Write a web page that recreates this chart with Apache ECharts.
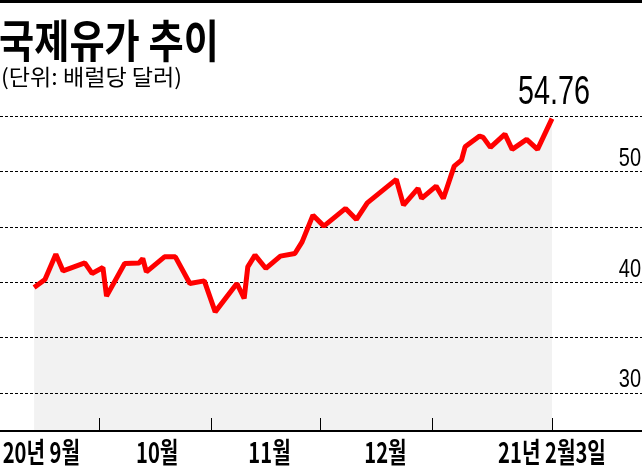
<!DOCTYPE html>
<html><head><meta charset="utf-8">
<script src="https://cdn.jsdelivr.net/npm/echarts@6/dist/echarts.min.js"></script>
<style>html,body{margin:0;padding:0;background:#fff}#c{width:642px;height:470px}</style>
</head><body><div id="c"></div>
<script>
// ---- data ----
const dates = [
  '2020-09-13','2020-09-16','2020-09-19','2020-09-21','2020-09-27','2020-09-29',
  '2020-10-02','2020-10-03','2020-10-08','2020-10-12','2020-10-13','2020-10-14',
  '2020-10-19','2020-10-22','2020-10-26','2020-10-30',
  '2020-11-02','2020-11-08','2020-11-10','2020-11-11','2020-11-13','2020-11-16',
  '2020-11-20','2020-11-24','2020-11-26','2020-11-29',
  '2020-12-02','2020-12-08','2020-12-11','2020-12-14','2020-12-22','2020-12-24',
  '2020-12-28','2020-12-29',
  '2021-01-02','2021-01-04','2021-01-07','2021-01-09','2021-01-10','2021-01-14',
  '2021-01-15','2021-01-17','2021-01-21','2021-01-23','2021-01-27','2021-01-30',
  '2021-02-03'
];
const values = [
  39.52,40.24,42.53,41.02,41.74,40.79,
  41.33,38.74,41.69,41.74,42.14,40.93,
  42.29,42.29,39.88,40.12,
  37.32,39.88,38.53,41.38,42.44,41.24,
  42.35,42.59,43.64,46.05,
  45.06,46.66,45.66,47.16,49.28,46.96,
  48.46,47.56,
  48.67,47.56,50.48,51.02,52.22,53.19,
  53.07,52.17,53.37,51.99,52.89,51.99,
  54.76
];
const yTickValues = [30,35,40,45,50,55];
const yLabelValues = [30,40,50];
const xTickDates = ['2020-10-01','2020-11-01','2020-12-01','2021-01-01','2021-02-03'];
const xLabelDates = ['2020-09-15','2020-10-17','2020-11-17','2020-12-19','2021-02-03'];
const xLabelTexts = ['20년 9월','10월','11월','12월','21년 2월3일'];
const titleText = '국제유가 추이';
const subtitleText = '(단위: 배럴당 달러)';

// ---- helpers ----
const base = Date.UTC(2020, 8, 1);
function dayOf(s){ const p = s.split('-').map(Number); return (Date.UTC(p[0], p[1]-1, p[2]) - base) / 864e5; }
const seriesData = dates.map((d, i) => [dayOf(d), values[i]]);
const last = seriesData[seriesData.length - 1];
const FONT_KR = '"Noto Sans CJK KR", "Noto Sans CJK SC", sans-serif';
const FONT_NUM = '"Liberation Sans", Arial, sans-serif';

const chart = echarts.init(document.getElementById('c'), null, {renderer: 'canvas'});
chart.setOption({
  animation: false,
  grid: {left: 0, right: 0, top: 116, bottom: 39},
  xAxis: {
    type: 'value', min: 2.58, max: 179.85, z: 2,
    splitLine: {show: false},
    axisLine: {show: true, lineStyle: {color: '#000', width: 2}},
    axisTick: {show: true, inside: true, length: 13, lineStyle: {color: '#000', width: 1}, customValues: xTickDates.map(dayOf)},
    axisLabel: {show: false}
  },
  yAxis: {
    type: 'value', position: 'right', min: 26.57, max: 55, z: 2,
    axisLine: {show: false},
    axisTick: {show: false, customValues: yTickValues},
    splitLine: {show: true, lineStyle: {color: '#000', width: 1, type: [3, 2]}},
    axisLabel: {show: false}
  },
  series: [
    {type: 'line', data: seriesData, symbol: 'none', z: 1, silent: true,
     lineStyle: {width: 0, opacity: 0},
     areaStyle: {color: '#f2f2f2', origin: 'start', opacity: 1}},
    {type: 'line', data: seriesData, symbol: 'none', z: 3,
     lineStyle: {color: '#ff0000', width: 5}}
  ]
});

const graphics = [
  {type: 'rect', shape: {x: 0, y: 0, width: 642, height: 3}, style: {fill: '#000'}},
  {type: 'text', x: -1, y: 18, scaleX: 0.85,
   style: {text: titleText, fill: '#000', fontSize: 45, fontWeight: 'bold', fontFamily: FONT_KR, verticalAlign: 'top', align: 'left'}},
  {type: 'text', x: 1, y: 66, scaleX: 1.05,
   style: {text: subtitleText, fill: '#000', fontSize: 22, fontFamily: FONT_KR, verticalAlign: 'top', align: 'left'}}
];
xLabelDates.forEach((d, i) => {
  const px = chart.convertToPixel({xAxisIndex: 0}, dayOf(d));
  graphics.push({type: 'text', x: px, y: 438, scaleX: 0.72,
    style: {text: xLabelTexts[i], fill: '#000', fontSize: 28, fontWeight: 'bold', fontFamily: FONT_KR, verticalAlign: 'top', align: 'center'}});
});
yLabelValues.forEach(v => {
  const py = chart.convertToPixel({yAxisIndex: 0}, v);
  graphics.push({type: 'text', x: 641, y: py - 12.5, scaleX: 0.8,
    style: {text: String(v), fill: '#000', fontSize: 25, fontFamily: FONT_NUM, verticalAlign: 'middle', align: 'right'}});
});
const lastPx = chart.convertToPixel({xAxisIndex: 0, yAxisIndex: 0}, last);
graphics.push({type: 'text', x: lastPx[0] + 2, y: lastPx[1] - 26, scaleX: 0.72,
  style: {text: last[1].toFixed(2), fill: '#000', fontSize: 40, fontFamily: FONT_NUM, verticalAlign: 'middle', align: 'center'}});
chart.setOption({graphic: graphics});
</script>
</body></html>
